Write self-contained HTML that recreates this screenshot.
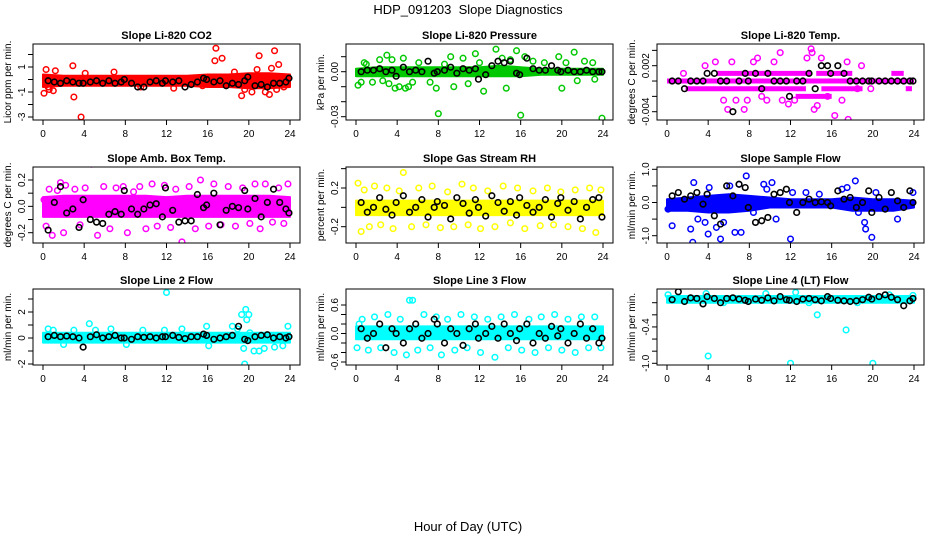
<!DOCTYPE html>
<html><head><meta charset="utf-8">
<style>
body{margin:0;background:#fff;}
svg{display:block;font-family:"Liberation Sans",sans-serif;}
</style></head>
<body>
<svg id="chart" width="936" height="540" viewBox="0 0 936 540">
<text x="468" y="14" text-anchor="middle" font-size="13">HDP_091203&#160; Slope Diagnostics</text>
<text x="468" y="531" text-anchor="middle" font-size="13">Hour of Day (UTC)</text>
</svg>
<script>
const xTicks = [0,4,8,12,16,20,24];
const bandHours = [0,2,4,6,8,10,12,14,16,18,20,22,24];
const blackHours = [0.5,1.1,1.7,2.3,2.9,3.5,3.9,4.6,5.2,5.8,6.4,7.0,7.6,7.9,8.6,9.2,9.8,10.4,11.0,11.6,11.9,12.6,13.2,13.8,14.4,15.0,15.6,15.9,16.6,17.2,17.8,18.4,19.0,19.6,19.9,20.6,21.2,21.8,22.4,23.0,23.6,23.9];

const co2BandLo = [-0.6,-0.5,-0.5,-0.5,-0.5,-0.5,-0.5,-0.5,-0.6,-0.6,-0.7,-0.7,-0.6];
const co2BandHi = [0.4,0.3,0.3,0.3,0.3,0.3,0.3,0.3,0.4,0.4,0.5,0.5,0.4];
const co2OutH = [0.1,0.3,0.5,0.6,1.0,1.2,2.9,3.0,3.7,4.1,6.9,9.5,12.7,15.5,16.7,16.8,17.4,18.6,19.3,19.6,20.3,20.8,21.0,21.6,22.0,22.2,22.5,22.7,22.9,23.4];
const co2OutV = [-1.1,0.8,-0.6,-0.8,-0.9,0.7,1.1,-1.4,-3.0,0.5,0.6,-0.6,-0.7,-0.5,1.5,2.5,1.7,0.6,-1.3,-0.8,-1.0,0.8,1.9,-1.0,-1.2,0.9,2.3,-0.8,1.2,-0.6];
const co2Black = [-0.1,-0.2,-0.3,-0.1,-0.2,-0.3,-0.3,-0.2,-0.1,-0.3,-0.1,-0.3,-0.2,0.0,-0.3,-0.6,-0.6,-0.2,-0.1,-0.3,-0.1,-0.2,-0.1,-0.6,-0.4,-0.2,0.1,0.0,-0.2,-0.1,-0.5,-0.3,-0.4,-0.1,0.2,-0.5,-0.4,-0.6,-0.3,-0.3,-0.2,0.1];

const presBandLo = [-0.003,-0.003,-0.003,-0.003,-0.003,-0.003,-0.003,-0.003,-0.003,-0.002,-0.002,-0.002,-0.002];
const presBandHi = [0.002,0.003,0.003,0.003,0.003,0.003,0.003,0.004,0.003,0.002,0.002,0.002,0.002];
const presOutH = [0.2,0.5,0.8,1.0,1.6,2.3,2.6,3.0,3.2,3.5,3.8,4.2,4.6,4.8,5.1,5.5,6.1,7.2,7.8,8.0,8.6,9.2,9.5,10.4,10.9,11.6,12.0,12.4,13.6,14.2,14.6,15.0,15.6,16.0,16.4,17.2,18.3,19.7,20.0,20.4,21.2,21.5,22.2,23.0,23.2,23.9];
const presOutV = [-0.009,-0.007,0.006,0.005,-0.007,0.008,-0.006,0.011,-0.008,0.008,-0.011,-0.010,0.009,-0.011,-0.010,-0.007,0.006,-0.007,-0.011,-0.028,0.005,0.010,-0.010,0.009,-0.008,0.012,0.006,-0.013,0.015,0.009,-0.011,0.008,0.014,-0.029,0.010,0.007,0.006,0.010,-0.011,0.006,0.013,-0.006,0.007,0.006,-0.005,-0.031];
const presBlack = [0,0.001,0.001,0.002,0,0.001,-0.003,0.003,0,0.001,0,0.007,-0.001,0,0.001,0.003,-0.001,0.002,0.001,0.002,-0.005,-0.002,0.004,0.007,0.006,0.007,-0.001,-0.002,0.009,0.002,0.001,0.001,0.004,0.001,0,0.001,0,0,0.001,0,0,0];

const tempSegLevel = [0,0.001,0.001,-0.001,-0.001,-0.002,0.001,-0.001];
const tempSegStart = [0,4.8,14.5,1.8,15.0,12.5,21.8,23.2];
const tempSegEnd = [24,14.0,18.0,13.5,19.0,16.0,23.0,23.8];
const tempOutH = [1.6,3.7,4.7,5.5,5.9,6.3,6.7,7.5,7.8,8.4,8.8,9.2,9.7,10.4,11.0,11.2,11.8,12.4,13.6,14.0,14.1,14.3,14.6,15.0,15.6,16.3,17.0,17.5,17.6,18.5,18.9,19.8];
const tempOutV = [0.001,0.002,0.0025,-0.0025,-0.0037,0.0025,-0.0025,-0.0037,-0.0025,0.0025,0.003,-0.002,-0.0025,0.0025,0.0037,-0.0025,-0.003,-0.0025,0.003,0.0042,0.0037,-0.0037,-0.0032,0.003,-0.002,-0.0045,-0.0025,0.0025,-0.005,-0.001,0.002,-0.001];
const tempBlack = [0,0,-0.001,0,0,0,0.001,0.001,0,0,-0.004,0,0.001,0,0.001,-0.001,0.001,0,0,0,-0.002,0,0,0.001,-0.001,0.002,0.002,0.001,0.002,0.001,0,0,0,0,0,0,0,0,0,0,0,0];

const ambBandLo = [-0.08,-0.08,-0.08,-0.08,-0.08,-0.08,-0.08,-0.08,-0.08,-0.08,-0.08,-0.08,-0.08];
const ambBandHi = [0.07,0.08,0.08,0.08,0.08,0.08,0.07,0.08,0.08,0.08,0.08,0.08,0.07];
const ambOutH = [0.1,0.3,0.6,0.9,1.4,1.7,2.0,2.2,2.8,3.1,3.6,4.1,4.7,5.3,5.9,6.5,7.1,7.6,7.8,8.2,8.8,9.4,10.0,10.6,11.1,11.8,12.4,12.9,13.5,14.2,14.8,15.3,16.1,16.6,17.3,18.0,18.7,19.4,20.1,20.6,21.1,21.6,22.3,22.9,23.4,23.8];
const ambOutV = [0.05,-0.15,0.13,-0.22,0.12,0.18,-0.2,0.16,0.05,0.13,-0.14,0.14,0.32,-0.22,0.15,-0.17,0.14,-0.3,0.15,-0.2,0.11,0.15,-0.17,0.17,-0.15,0.16,-0.16,0.13,-0.27,0.15,-0.17,0.2,-0.15,0.17,-0.14,0.15,-0.15,0.14,-0.13,0.17,-0.17,0.17,-0.12,0.14,-0.13,0.17];
const ambBlack = [-0.18,0.03,0.15,-0.05,-0.02,-0.16,0.05,-0.1,-0.12,-0.13,-0.06,-0.04,-0.06,0.12,-0.02,-0.06,-0.02,0.01,0.02,-0.08,0.14,-0.03,-0.12,-0.11,-0.11,0.09,-0.01,0.01,0.1,-0.14,-0.03,0.0,-0.01,0.12,-0.02,0.06,-0.08,0.03,0.13,0.03,-0.02,-0.05];

const rhBandLo = [-0.08,-0.08,-0.08,-0.08,-0.08,-0.08,-0.08,-0.08,-0.08,-0.08,-0.08,-0.08,-0.08];
const rhBandHi = [0.07,0.07,0.07,0.07,0.07,0.07,0.07,0.07,0.07,0.07,0.07,0.07,0.07];
const rhOutH = [0.2,0.5,0.8,1.3,1.8,2.4,3.0,3.6,4.2,4.6,5.4,6.1,6.8,7.4,8.2,8.9,9.5,10.3,10.9,11.4,12.1,12.8,13.5,14.3,15.0,15.7,16.4,17.2,17.9,18.6,19.2,19.9,20.6,21.3,22.0,22.7,23.3,23.8];
const rhOutV = [0.25,-0.25,0.18,-0.2,0.22,-0.18,0.2,-0.22,0.17,0.36,-0.2,0.2,-0.18,0.22,-0.21,0.16,-0.2,0.24,-0.18,0.2,-0.22,0.17,-0.2,0.22,-0.16,0.2,-0.22,0.17,-0.19,0.2,-0.18,0.16,-0.2,0.18,-0.22,0.2,-0.26,0.18];
const rhBlack = [0.05,-0.05,0.0,0.1,-0.02,-0.08,0.05,0.12,-0.05,0.0,0.08,-0.1,0.0,0.06,0.02,-0.12,0.1,0.04,-0.06,0.08,0.0,-0.09,0.12,0.05,-0.04,0.06,-0.08,0.1,0.02,-0.05,0.0,0.08,-0.1,0.04,0.1,-0.03,0.06,-0.12,0.0,0.08,0.1,-0.1];

const flowBandLo = [-0.25,-0.25,-0.3,-0.3,-0.25,-0.15,-0.15,-0.15,-0.15,-0.25,-0.25,-0.25,-0.15];
const flowBandHi = [0.1,0.15,0.2,0.25,0.2,0.15,0.1,0.1,0.1,0.15,0.1,0.1,0.05];
const flowOutH = [0.1,0.5,2.3,2.5,2.6,3.0,3.7,4.0,4.1,4.4,4.8,5.2,5.5,6.1,6.6,7.0,7.2,7.7,8.4,9.4,9.7,10.2,10.6,12.0,12.2,13.5,14.8,17.0,17.5,18.3,18.6,19.2,19.3,19.9,20.3,22.4,23.9];
const flowOutV = [-0.2,-0.7,-0.8,-1.2,0.6,-0.5,-0.6,-0.95,0.45,-0.2,-0.75,-1.1,-0.6,0.5,-0.9,0.55,-0.9,0.8,-0.3,0.55,0.4,0.6,-0.5,-1.1,0.3,0.3,0.25,0.4,0.45,0.65,-0.3,-0.6,-0.8,-1.05,0.3,-0.5,0.3];
const flowBlack = [0.2,0.3,0.1,0.2,0.3,-0.05,0.25,-0.4,-0.65,0.5,0.2,0.55,0.45,-0.15,-0.6,-0.55,-0.45,0.25,0.3,0.4,0.0,-0.3,0.0,0.1,0.0,0.02,0.0,-0.1,0.35,0.1,0.15,-0.15,0.0,0.35,-0.3,0.15,-0.2,0.3,0.05,-0.15,0.35,0.0];

const l2BandLo = [-0.35,-0.35,-0.35,-0.35,-0.35,-0.35,-0.35,-0.35,-0.35,-0.35,-0.35,-0.35,-0.35];
const l2BandHi = [0.4,0.4,0.4,0.4,0.4,0.4,0.4,0.4,0.4,0.4,0.4,0.4,0.4];
const l2OutH = [0.5,1.0,2.0,3.0,4.5,5.1,6.6,8.1,9.7,11.8,12.0,13.5,15.9,16.1,18.4,18.9,19.3,19.5,19.6,19.7,19.8,20.0,20.1,20.5,21.0,21.5,22.5,23.3,23.8];
const l2OutV = [0.7,0.6,-0.5,0.6,1.1,0.6,0.7,-0.5,0.6,0.6,3.5,0.7,0.9,-0.6,0.9,0.7,1.8,-0.8,-2.0,2.2,1.4,1.8,0.4,-1.0,-1.0,-0.8,-0.7,-0.6,0.9];
const l2Black = [0.1,0.2,0.1,0.15,0.1,0.0,-0.7,0.1,0.25,0.0,0.1,0.2,0.0,0.0,-0.1,0.1,0.05,0.1,0.0,0.1,0.1,0.2,0.05,-0.05,0.1,0.1,0.3,0.2,-0.1,0.0,0.1,0.2,0.9,-0.1,-0.2,0.1,0.2,0.25,0.0,0.1,0.0,0.1];

const l3BandLo = [-0.12,-0.12,-0.12,-0.12,-0.12,-0.12,-0.12,-0.12,-0.12,-0.12,-0.12,-0.12,-0.12];
const l3BandHi = [0.15,0.15,0.15,0.15,0.15,0.15,0.15,0.15,0.15,0.15,0.15,0.15,0.15];
const l3OutH = [0.1,0.3,0.6,1.2,1.8,2.4,3.1,3.7,4.3,4.9,5.2,5.5,6.0,6.6,7.2,7.8,8.3,8.9,9.6,10.2,10.8,11.5,12.1,12.8,13.5,14.1,14.8,15.4,16.1,16.8,17.4,18.0,18.7,19.3,20.0,20.6,21.3,21.9,22.6,23.2,23.8];
const l3OutV = [-0.3,0.2,0.3,-0.35,0.35,-0.3,0.4,-0.4,0.3,-0.45,0.7,0.7,-0.35,0.4,-0.3,0.35,-0.45,0.3,-0.35,0.4,-0.3,0.35,-0.4,0.3,-0.5,0.35,-0.3,0.4,-0.35,0.3,-0.4,0.35,-0.3,0.4,-0.35,0.3,-0.4,0.35,-0.3,0.35,-0.3];
const l3Black = [0.1,-0.1,0.0,0.2,-0.3,0.1,0.0,-0.2,0.1,0.2,-0.1,0.0,0.3,0.2,-0.2,0.1,0.0,-0.25,0.1,0.2,-0.1,0.0,0.15,-0.1,0.2,0.0,-0.15,0.1,0.2,-0.2,0.0,-0.1,0.15,-0.05,0.1,-0.2,0.0,0.2,-0.1,0.1,-0.2,-0.1];

const l4BandLo = [0.0,0.0,0.0,0.0,0.0,0.0,0.0,0.0,0.0,0.0,0.0,0.0,0.0];
const l4BandHi = [0.11,0.11,0.11,0.11,0.11,0.11,0.11,0.11,0.11,0.11,0.11,0.11,0.11];
const l4OutH = [4.0,12.0,20.0,17.4,14.6,3.8,12.5,0.1,9.6,21.6,23.9,5.5,13.8,18.5];
const l4OutV = [-0.88,-1.0,-1.0,-0.45,-0.2,0.15,0.17,0.13,0.15,0.13,0.12,0.0,0.0,0.0];
const l4Black = [0.05,0.18,0.02,0.08,0.07,-0.02,0.1,0.07,0.0,0.07,0.08,0.06,0.04,0.02,0.06,0.04,0.08,0.03,0.1,0.05,0.04,0.02,0.06,0.07,0.05,0.03,0.1,0.07,0.04,0.03,0.02,0.03,0.05,0.09,0.06,0.1,0.13,0.09,0.05,-0.05,0.03,0.07];

const NS = 'http://www.w3.org/2000/svg';
const svg = document.getElementById('chart');
function mk(tag, attrs, parent){ const e=document.createElementNS(NS,tag); for(const k in attrs) e.setAttribute(k,attrs[k]); (parent||svg).appendChild(e); return e; }

const colLeft=[33,346,657], rowTop=[44,167,289], W=267, H=76;
const panels = [
 {name:'co2',title:'Slope Li-820 CO2',ylab:'Licor ppm per min.',color:'#ff0000',r:0,c:0,va:1,pa:67,vb:-1,pb:92,ticks:[-3,-2,-1,0,1,2],labels:[-3,-1,1],fmt:v=>String(v),lo:co2BandLo,hi:co2BandHi,oh:co2OutH,ov:co2OutV,bk:co2Black},
 {name:'pressure',title:'Slope Li-820 Pressure',ylab:'kPa per min.',color:'#00c800',r:0,c:1,va:0,pa:71.7,vb:-0.03,pb:116.7,ticks:[-0.03,-0.02,-0.01,0,0.01],labels:[-0.03,0],fmt:v=>v.toFixed(2),lo:presBandLo,hi:presBandHi,oh:presOutH,ov:presOutV,bk:presBlack},
 {name:'temp',title:'Slope Li-820 Temp.',ylab:'degrees C per min.',color:'#ff00ff',r:0,c:2,va:0.002,pa:65.7,vb:-0.004,pb:111.7,ticks:[-0.004,-0.002,0,0.002,0.004],labels:[-0.004,0.002],fmt:v=>v.toFixed(3),seg:true,oh:tempOutH,ov:tempOutV,bk:tempBlack},
 {name:'amb-temp',title:'Slope Amb. Box Temp.',ylab:'degrees C per min.',color:'#ff00ff',r:1,c:0,va:0.2,pa:180,vb:-0.2,pb:232.7,ticks:[-0.2,-0.1,0,0.1,0.2],labels:[-0.2,0,0.2],fmt:v=>v.toFixed(1),lo:ambBandLo,hi:ambBandHi,oh:ambOutH,ov:ambOutV,bk:ambBlack},
 {name:'gas-rh',title:'Slope Gas Stream RH',ylab:'percent per min.',color:'#ffff00',r:1,c:1,va:0.2,pa:188,vb:-0.2,pb:226.7,ticks:[-0.2,0,0.2,0.4],labels:[-0.2,0.2],fmt:v=>v.toFixed(1),lo:rhBandLo,hi:rhBandHi,oh:rhOutH,ov:rhOutV,bk:rhBlack},
 {name:'sample-flow',title:'Slope Sample Flow',ylab:'ml/min per min.',color:'#0000ff',r:1,c:2,va:1,pa:169.3,vb:-1,pb:235.7,ticks:[-1,-0.5,0,0.5,1],labels:[-1,0,1],fmt:v=>v.toFixed(1),lo:flowBandLo,hi:flowBandHi,oh:flowOutH,ov:flowOutV,bk:flowBlack},
 {name:'line2-flow',title:'Slope Line 2 Flow',ylab:'ml/min per min.',color:'#00ffff',r:2,c:0,va:2,pa:312,vb:-2,pb:364,ticks:[-2,-1,0,1,2,3],labels:[-2,0,2],fmt:v=>String(v),lo:l2BandLo,hi:l2BandHi,oh:l2OutH,ov:l2OutV,bk:l2Black},
 {name:'line3-flow',title:'Slope Line 3 Flow',ylab:'ml/min per min.',color:'#00ffff',r:2,c:1,va:0.6,pa:305,vb:-0.6,pb:362,ticks:[-0.6,-0.4,-0.2,0,0.2,0.4,0.6],labels:[-0.6,0,0.6],fmt:v=>v.toFixed(1),lo:l3BandLo,hi:l3BandHi,oh:l3OutH,ov:l3OutV,bk:l3Black},
 {name:'line4-flow',title:'Slope Line 4 (LT) Flow',ylab:'ml/min per min.',color:'#00ffff',r:2,c:2,va:0,pa:302.7,vb:-1,pb:363.3,ticks:[-1,-0.8,-0.6,-0.4,-0.2,0],labels:[-1,-0.4],fmt:v=>v.toFixed(1),lo:l4BandLo,hi:l4BandHi,oh:l4OutH,ov:l4OutV,bk:l4Black}
];

panels.forEach(p=>{
  const L=colLeft[p.c], T=rowTop[p.r];
  const g=mk('g',{});
  
  
  const xs=h=>L+10+h*(247/24);
  const ys=v=>p.pa+(v-p.va)*(p.pb-p.pa)/(p.vb-p.va);
  const cp='clip-'+p.name;
  const cl=mk('clipPath',{id:cp},g); mk('rect',{x:L,y:T,width:W,height:H},cl);
  const plot=mk('g',{'clip-path':'url(#'+cp+')'},g);
  if(p.seg){
    tempSegLevel.forEach((lv,i)=>{
      const s=mk('line',{x1:xs(tempSegStart[i]),x2:xs(tempSegEnd[i]),y1:ys(lv),y2:ys(lv),stroke:p.color,'stroke-width':5},plot);
      
      
    });
  } else {
    let d='';
    bandHours.forEach((h,i)=>{d+=(i?'L':'M')+xs(h).toFixed(1)+','+ys(p.hi[i]).toFixed(1);});
    for(let i=bandHours.length-1;i>=0;i--) d+='L'+xs(bandHours[i]).toFixed(1)+','+ys(p.lo[i]).toFixed(1);
    const b=mk('path',{d:d+'Z',fill:p.color,stroke:p.color,'stroke-width':2,'stroke-linejoin':'round'},plot);
    
    
  }
  p.oh.forEach((h,i)=>{
    const c=mk('circle',{cx:xs(h),cy:ys(p.ov[i]),r:2.8,fill:'none',stroke:p.color,'stroke-width':1.5},plot);
    
    
  });
  blackHours.forEach((h,i)=>{
    const c=mk('circle',{cx:xs(h),cy:ys(p.bk[i]),r:2.8,fill:'none',stroke:'#000','stroke-width':1.6},plot);
    
    
  });
  const box=mk('rect',{x:L,y:T,width:W,height:H,fill:'none',stroke:'#000','stroke-width':1},g);
  
  
  const tt=mk('text',{x:L+W/2,y:T-5,'text-anchor':'middle','font-size':11,'font-weight':'bold'},g);
  tt.textContent=p.title;
  
  
  xTicks.forEach(t=>{
    mk('line',{x1:xs(t),x2:xs(t),y1:T+H,y2:T+H+5,stroke:'#000'},g);
    const tx=mk('text',{x:xs(t),y:T+H+17,'text-anchor':'middle','font-size':10},g);
    tx.textContent=t;
    
    
  });
  p.ticks.forEach(t=>{
    const y=ys(t); if(y<T-1||y>T+H+1) return;
    mk('line',{x1:L-5,x2:L,y1:y,y2:y,stroke:'#000'},g);
  });
  p.labels.forEach(t=>{
    const y=ys(t);
    const tx=mk('text',{x:L-8,y:y,'text-anchor':'middle','font-size':10,transform:'rotate(-90 '+(L-8)+' '+y+')'},g);
    tx.textContent=p.fmt(t);
    
    
  });
  const yl=mk('text',{x:L-22,y:T+H/2,'text-anchor':'middle','font-size':10,transform:'rotate(-90 '+(L-22)+' '+(T+H/2)+')'},g);
  yl.textContent=p.ylab;
  
  
});
</script>
</body></html>
